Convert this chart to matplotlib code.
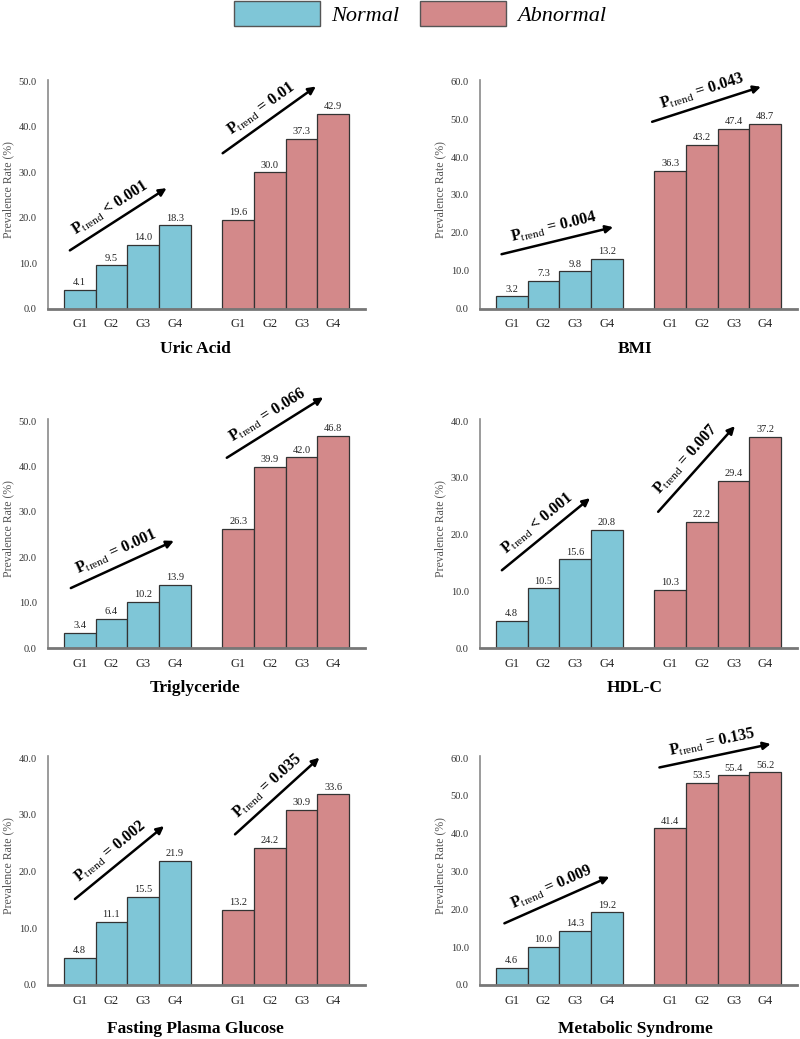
import numpy as np
import matplotlib
matplotlib.use('Agg')
import matplotlib.pyplot as plt
from matplotlib.patches import Patch

plt.rcParams['font.family'] = ['Liberation Serif', 'DejaVu Serif']
plt.rcParams['mathtext.fontset'] = 'custom'
plt.rcParams['mathtext.rm'] = 'Liberation Serif'
plt.rcParams['mathtext.bf'] = 'Liberation Serif:bold'
plt.rcParams['mathtext.it'] = 'Liberation Serif:italic'

# data
groups = ['G1', 'G2', 'G3', 'G4']
titles = ['Uric Acid', 'BMI', 'Triglyceride', 'HDL-C',
          'Fasting Plasma Glucose', 'Metabolic Syndrome']
uric_normal = [4.1, 9.5, 14.0, 18.3]
uric_abnormal = [19.6, 30.0, 37.3, 42.9]
bmi_normal = [3.2, 7.3, 9.8, 13.2]
bmi_abnormal = [36.3, 43.2, 47.4, 48.7]
tg_normal = [3.4, 6.4, 10.2, 13.9]
tg_abnormal = [26.3, 39.9, 42.0, 46.8]
hdl_normal = [4.8, 10.5, 15.6, 20.8]
hdl_abnormal = [10.3, 22.2, 29.4, 37.2]
fpg_normal = [4.8, 11.1, 15.5, 21.9]
fpg_abnormal = [13.2, 24.2, 30.9, 33.6]
mets_normal = [4.6, 10.0, 14.3, 19.2]
mets_abnormal = [41.4, 53.5, 55.4, 56.2]
p_normal = ['< 0.001', '= 0.004', '= 0.001', '< 0.001', '= 0.002', '= 0.009']
p_abnormal = ['= 0.01', '= 0.043', '= 0.066', '= 0.007', '= 0.035', '= 0.135']
y_max = [50, 60, 50, 40, 40, 60]

normal = [uric_normal, bmi_normal, tg_normal, hdl_normal, fpg_normal, mets_normal]
abnormal = [uric_abnormal, bmi_abnormal, tg_abnormal, hdl_abnormal, fpg_abnormal, mets_abnormal]

# arrow positions (tail x, tail y, head x, head y) in data units
arrows_normal = [(-0.31, 12.8, 2.74, 26.5), (-0.32, 14.35, 3.2, 21.5),
                 (-0.28, 13.2, 2.97, 23.6), (-0.31, 13.7, 2.47, 26.4),
                 (-0.15, 15.15, 2.66, 28.0), (-0.23, 16.3, 3.08, 28.6)]
arrows_abnormal = [(4.51, 34.2, 7.45, 48.9), (4.43, 49.35, 7.86, 58.6),
                   (4.64, 41.9, 7.68, 55.2), (4.62, 24.0, 7.04, 39.1),
                   (4.9, 26.55, 7.56, 40.05), (4.66, 57.5, 8.17, 63.7)]

blue = '#7fc6d7'
red = '#d3898a'
edge = '#333333'

W, H = 800, 1039
fig = plt.figure(figsize=(W / 100, H / 100), dpi=100)

col_left = [48, 480]
row_zero = [308.5, 648, 985]
row_title = [349, 688, 1029]
col_title = [195, 635]
ax_w, ax_h = 317, 229

x_norm = np.arange(4)
x_abn = np.arange(5, 9)


def draw_trend(ax, arr, ptxt):
    x0, y0, x1, y1 = arr
    ax.annotate('', xy=(x1, y1), xytext=(x0, y0), annotation_clip=False,
                arrowprops=dict(arrowstyle='-|>', lw=1.8, color='black',
                                mutation_scale=11, shrinkA=0, shrinkB=0))
    p0 = ax.transData.transform((x0, y0))
    p1 = ax.transData.transform((x1, y1))
    d = p1 - p0
    ang = np.arctan2(d[1], d[0])
    mid = (p0 + p1) / 2 + 14 * np.array([-np.sin(ang), np.cos(ang)])
    tx, ty = ax.transData.inverted().transform(mid)
    ax.text(tx, ty, 'P$_{\\mathrm{trend}}$ ' + ptxt, rotation=np.degrees(ang),
            rotation_mode='anchor', ha='center', va='center',
            fontsize=11.5, fontweight='bold', clip_on=False)


for i in range(6):
    r, c = divmod(i, 2)
    left = col_left[c] / W
    bottom = 1 - row_zero[r] / H
    ax = fig.add_axes([left, bottom, ax_w / W, ax_h / H])
    top = y_max[i] * ax_h / 227
    ax.set_xlim(-1, 9)
    ax.set_ylim(0, top)

    b1 = ax.bar(x_norm, normal[i], width=1, color=blue, edgecolor=edge, linewidth=0.9)
    b2 = ax.bar(x_abn, abnormal[i], width=1, color=red, edgecolor=edge, linewidth=0.9)
    ax.bar_label(b1, fmt='%.1f', padding=2, fontsize=7.5, color='#222222')
    ax.bar_label(b2, fmt='%.1f', padding=2, fontsize=7.5, color='#222222')

    ax.set_yticks(np.arange(0, y_max[i] + 1, 10))
    ax.set_yticklabels(['%.1f' % v for v in np.arange(0, y_max[i] + 1, 10)])
    ax.set_xticks(list(x_norm) + list(x_abn))
    ax.set_xticklabels(groups + groups)
    ax.tick_params(axis='y', length=0, pad=8, labelsize=7.5, labelcolor='#333333')
    ax.tick_params(axis='x', length=0, pad=7, labelsize=9, labelcolor='#222222')

    for s in ['top', 'right']:
        ax.spines[s].set_visible(False)
    ax.spines['left'].set_color('#8a8a8a')
    ax.spines['left'].set_linewidth(1.2)
    ax.spines['bottom'].set_color('#777777')
    ax.spines['bottom'].set_linewidth(2)

    ax.set_ylabel('Prevalence Rate (%)', fontsize=8.5, color='#555555')
    ax.yaxis.set_label_coords(-0.106, 0.52)

    draw_trend(ax, arrows_normal[i], p_normal[i])
    draw_trend(ax, arrows_abnormal[i], p_abnormal[i])

    fig.text(col_title[c] / W, 1 - row_title[r] / H, titles[i], ha='center',
             va='center', fontsize=12.5, fontweight='bold')

handles = [Patch(facecolor=blue, edgecolor='#555555', linewidth=1),
           Patch(facecolor=red, edgecolor='#555555', linewidth=1)]
fig.legend(handles, ['Normal', 'Abnormal'], loc='upper center',
           bbox_to_anchor=(0.525, 1 - 1 / H), ncol=2, frameon=False,
           prop={'style': 'italic', 'size': 16}, handlelength=3.9,
           handleheight=1.35, handletextpad=0.5, columnspacing=0.9,
           borderpad=0, borderaxespad=0)

fig.savefig('out.png', dpi=100)
